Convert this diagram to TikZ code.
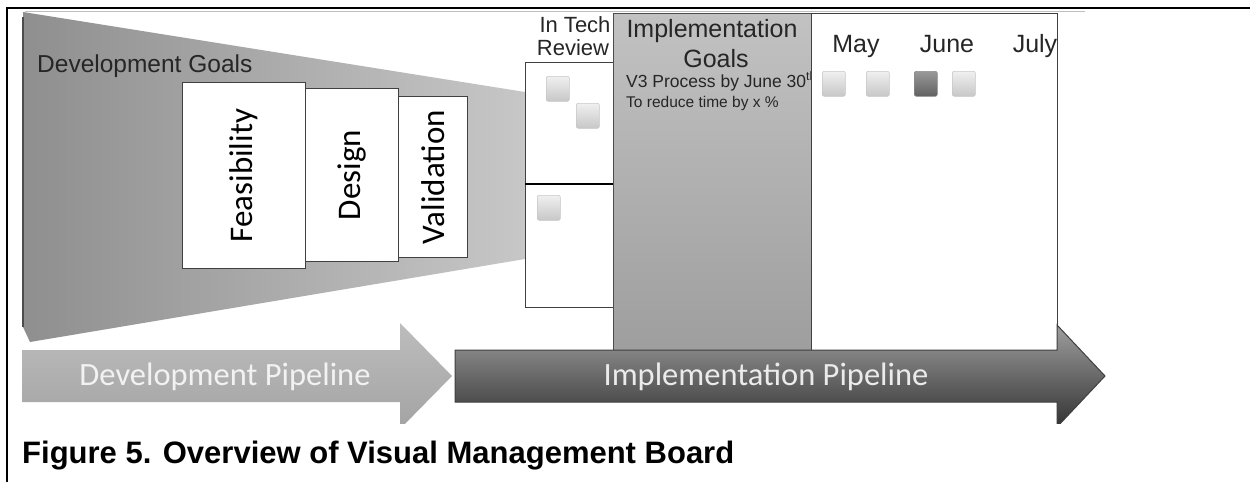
\documentclass[tikz,border=0pt]{standalone}
\usepackage{fontspec}
\setmainfont{Liberation Sans}
\newfontfamily\calfont{Carlito}
\begin{document}
\begin{tikzpicture}[x=1pt,y=-1pt,
  card/.style={draw=black!75, line width=1.2pt, fill=white, inner sep=0pt, anchor=north west},
  col/.style={draw=black!70, line width=1.2pt, inner sep=0pt, anchor=north west},
  note/.style={rounded corners=2pt, draw=black!22, line width=0.6pt, top color=black!6, bottom color=black!22, inner sep=0pt, anchor=north west, minimum width=23pt, minimum height=25pt},
  darknote/.style={note, draw=black!45, top color=black!40, bottom color=black!62},
  sidelabel/.style={rotate=90, font=\calfont\fontsize{33}{40}\selectfont, inner sep=0pt},
  lbl/.style={inner sep=0pt, anchor=base},
  pipetext/.style={font=\calfont\fontsize{32.5}{38}\selectfont, inner sep=0pt}
]
\useasboundingbox (0,0) rectangle (1250,482);
\fill[white] (0,0) rectangle (1250,482);

% faint top edge of the picture
\draw[black!25, line width=1pt] (25,11) -- (1085,11);

% funnel
\shade[left color=black!44, right color=black!22] (23,12) -- (525,92) -- (525,259) -- (30,342) -- (23,327) -- cycle;
\draw[black!70, line width=2pt] (23,17) -- (23,327);
\node[lbl, anchor=base west, font=\fontsize{24.5}{28}\selectfont, text=black!85] (devgoals) at (37,72) {Development Goals};

% development stage boxes
\node[card, minimum width=123pt, minimum height=186pt] (feas) at (182,82) {};
\node[sidelabel] (feaslbl) at (feas.center) {Feasibility};
\node[card, minimum width=93pt, minimum height=173pt] (design) at (305,88) {};
\node[sidelabel] (designlbl) at (design.center) {Design};
\node[card, minimum width=69pt, minimum height=161pt] (valid) at (398,96) {};
\node[sidelabel] (validlbl) at (valid.center) {Validation};

% In tech review column
\node[lbl, font=\fontsize{22}{26}\selectfont, text=black!85] (intech) at (575,32) {In Tech};
\node[lbl, font=\fontsize{22}{26}\selectfont, text=black!85] (review) at (573,55) {Review};
\node[card, minimum width=88pt, minimum height=121pt] (tr1) at (525,62) {};
\node[card, minimum width=88pt, minimum height=124pt] (tr2) at (525,183) {};
\draw[black, line width=1.6pt] (tr1.south west) -- (tr1.south east);
\node[note] (n1) at (546,76) {};
\node[note] (n2) at (576,103) {};
\node[note] (n3) at (537,195) {};

% implementation goals column
\node[col, minimum width=198pt, minimum height=337pt, top color=black!24, bottom color=black!38] (impl) at (613,13) {};
\node[lbl, font=\fontsize{25}{29}\selectfont, text=black!85] (impllbl) at (712,37) {Implementation};
\node[lbl, font=\fontsize{25}{29}\selectfont, text=black!85] (goalslbl) at (716,67) {Goals};
\node[lbl, anchor=base west, font=\fontsize{17.5}{20}\selectfont, text=black!85] (v3) at (626,87) {V3 Process by June 30\textsuperscript{th}};
\node[lbl, anchor=base west, font=\fontsize{15.5}{18}\selectfont, text=black!85] (reduce) at (626,107) {To reduce time by x \%};

% months board
\node[card, minimum width=246pt, minimum height=337pt] (months) at (811,13) {};
\node[lbl, font=\fontsize{25}{29}\selectfont, text=black!85] (may) at (856,52) {May};
\node[lbl, font=\fontsize{25}{29}\selectfont, text=black!85] (june) at (947,52) {June};
\node[lbl, font=\fontsize{25}{29}\selectfont, text=black!85] (july) at (1035,52) {July};
\node[note] (m1) at (822,71) {};
\node[note] (m2) at (866,71) {};
\node[darknote] (m3) at (914,71) {};
\node[note] (m4) at (952,71) {};

% pipelines
\begin{scope}
\clip (0,0) rectangle (1250,423);
\shade[top color=black!26, bottom color=black!36] (22,350) -- (400,350) -- (400,323) -- (452,376) -- (400,429) -- (400,402) -- (22,402) -- cycle;
\shade[top color=black!38, bottom color=black!80, draw=black!75, line width=1pt] (455,350) -- (1057,350) -- (1057,325) -- (1105,376) -- (1057,427) -- (1057,402) -- (455,402) -- cycle;
\end{scope}
\node[pipetext, text=black!5] (devpipe) at (225,377) {Development Pipeline};
\node[pipetext, text=black!8] (implpipe) at (766,377) {Implementation Pipeline};

% caption
\node[lbl, anchor=base west, font=\bfseries\fontsize{31}{36}\selectfont] (caption) at (22,463) {Figure 5. Overview of Visual Management Board};

% frame
\draw[black, line width=2.5pt] (7,482) -- (7,8) -- (1250,8);
\end{tikzpicture}
\end{document}
